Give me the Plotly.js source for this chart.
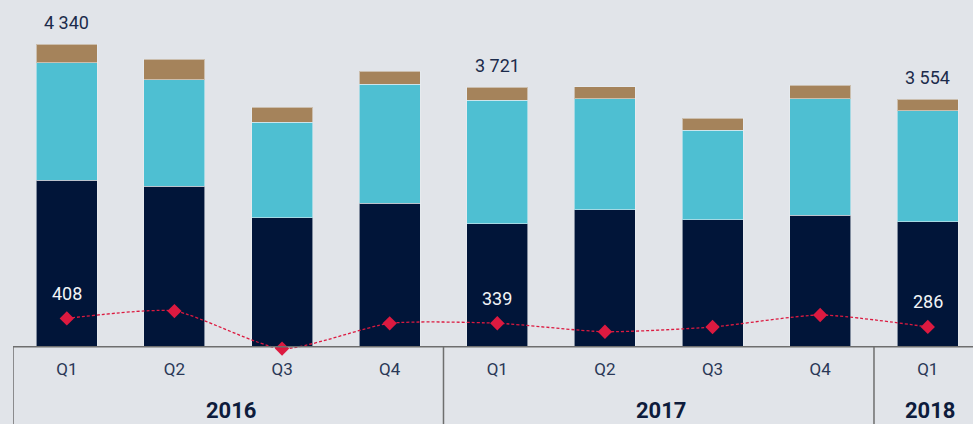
<!DOCTYPE html>
<html>
<head>
<meta charset="utf-8">
<script src="https://cdn.plot.ly/plotly-3.0.1.min.js"></script>
<style>
  html, body { margin: 0; padding: 0; background: #e1e4e9; }
  #chart { width: 973px; height: 424px; }
</style>
</head>
<body>
<div id="chart"></div>
<script>
// ---- data ----
var years    = ['2016','2016','2016','2016','2017','2017','2017','2017','2018'];
var quarters = ['Q1','Q2','Q3','Q4','Q1','Q2','Q3','Q4','Q1'];
var seriesNavy  = [2390, 2303, 1854, 2059, 1767, 1969, 1821, 1887, 1796];
var seriesCyan  = [1687, 1529, 1369, 1706, 1772, 1590, 1283, 1672, 1591];
var seriesBrown = [ 263,  296,  211,  187,  182,  173,  172,  192,  167];
var lineValues  = [ 408,  514,  -25,  338,  339,  217,  285,  457,  286];
var labelledIdx = [0, 4, 8];

// ---- build ----
var cats = years.map(function (y, i) { return y + ' ' + quarters[i]; });
function fmt(n) { return String(Math.round(n)).replace(/\B(?=(\d{3})+(?!\d))/g, ' '); }

var yRange = [-45, 4975];
var font = 'Roboto, sans-serif';
var barLine = { color: 'rgba(235,238,242,0.55)', width: 1 };
var traces = [
  { type: 'bar', x: cats, y: seriesNavy,  marker: { color: '#011539', line: barLine }, hoverinfo: 'skip' },
  { type: 'bar', x: cats, y: seriesCyan,  marker: { color: '#4ebfd2', line: barLine }, hoverinfo: 'skip' },
  { type: 'bar', x: cats, y: seriesBrown, marker: { color: '#a5835b', line: barLine }, hoverinfo: 'skip' },
  { type: 'scatter', mode: 'lines+markers', x: cats, y: lineValues, cliponaxis: false,
    line: { color: '#dc1a40', width: 1.3, dash: '3px,2px', shape: 'spline', smoothing: 0.6 },
    marker: { symbol: 'diamond', size: 11, color: '#dc1a40' }, hoverinfo: 'skip' }
];

var annotations = [];
var textColor = '#1c2b4b';
labelledIdx.forEach(function (i) {
  var total = seriesNavy[i] + seriesCyan[i] + seriesBrown[i];
  annotations.push({ x: cats[i], y: total, xref: 'x', yref: 'y', text: fmt(total),
    showarrow: false, yanchor: 'middle', yshift: 22,
    font: { family: font, size: 18, color: textColor } });
  annotations.push({ x: cats[i], y: lineValues[i], xref: 'x', yref: 'y', text: fmt(lineValues[i]),
    showarrow: false, yanchor: 'middle', yshift: 25,
    font: { family: font, size: 18, color: '#f2f4f7' } });
});

// baseline (category axis line at zero)
var shapes = [{ type: 'line', xref: 'paper', yref: 'y', x0: 0, x1: 1, y0: 0, y1: 0,
  line: { color: '#6e6e6e', width: 1.5 }, layer: 'above' }];

// year group labels and dividers
var groups = [];
years.forEach(function (y, i) {
  if (!groups.length || groups[groups.length - 1].year !== y) groups.push({ year: y, start: i, end: i });
  else groups[groups.length - 1].end = i;
});
var zeroPaper = (0 - yRange[0]) / (yRange[1] - yRange[0]);
groups.forEach(function (g) {
  annotations.push({ x: (g.start + g.end) / 2, y: 0, xref: 'x', yref: 'y', text: '<b>' + g.year + '</b>',
    showarrow: false, yanchor: 'middle', yshift: -64, xshift: 3,
    font: { family: font, size: 22, color: '#0e1c3c' } });
  shapes.push({ type: 'line', xref: 'x', yref: 'paper', x0: g.start - 0.5, x1: g.start - 0.5, y0: zeroPaper, y1: -0.3,
    line: { color: '#6e6e6e', width: 1.5 } });
});

var layout = {
  width: 973, height: 424,
  margin: { l: 13, r: 0, t: 0, b: 74 },
  paper_bgcolor: '#e1e4e9', plot_bgcolor: '#e1e4e9',
  barmode: 'stack', bargap: 0.433,
  showlegend: false,
  xaxis: {
    type: 'category', range: [-0.5, 8.42],
    tickvals: cats, ticktext: quarters,
    showline: false,
    ticks: 'outside', ticklen: 4, tickcolor: 'rgba(0,0,0,0)',
    tickfont: { family: font, size: 17, color: '#2a3857' },
    showgrid: false, zeroline: false, fixedrange: true
  },
  yaxis: { range: yRange, visible: false, showgrid: false, zeroline: false, fixedrange: true },
  annotations: annotations,
  shapes: shapes
};

Plotly.newPlot('chart', traces, layout, { staticPlot: true, displayModeBar: false });
</script>
</body>
</html>
